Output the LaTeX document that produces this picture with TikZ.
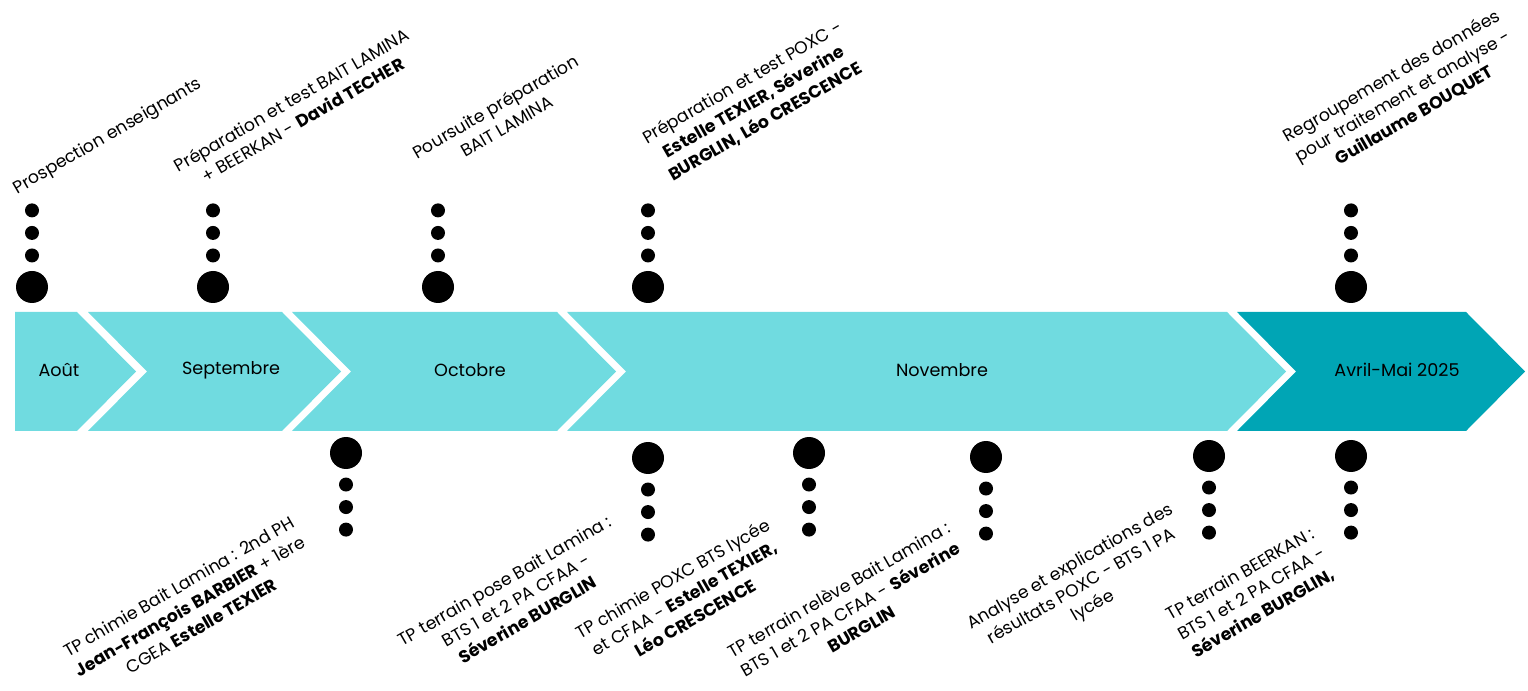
\documentclass[tikz,border=0pt]{standalone}
\usepackage{fontspec}
\setmainfont{Poppins}
\usetikzlibrary{positioning}
\definecolor{bandlight}{HTML}{70DBE0}
\definecolor{banddark}{HTML}{00A5B5}
\tikzset{
  monthband/.style={fill=bandlight},
  monthbandlast/.style={fill=banddark},
  monthlabel/.style={font=\fontsize{13.2}{16}\selectfont, inner sep=0pt},
  eventlabel/.style={
    font=\fontsize{13}{17}\selectfont, align=center,
    rotate=30, inner sep=0pt
  },
  bigdot/.style={circle, fill=black, minimum size=24pt, inner sep=0pt},
  smalldot/.style={circle, fill=black, minimum size=10.5pt, inner sep=0pt},
}

\begin{document}
\begin{tikzpicture}[x=0.75pt, y=-0.75pt]
  \useasboundingbox (0,0) rectangle (1528,691);

  % timeline band
  \fill[monthband] (15,312) -- (77,312) -- (136,371.5) -- (77,431) -- (15,431) -- cycle;
  \fill[monthband] (88,312) -- (282,312) -- (341,371.5) -- (282,431) -- (88,431) -- (147,371.5) -- cycle;
  \fill[monthband] (292,312) -- (557,312) -- (616,371.5) -- (557,431) -- (292,431) -- (351,371.5) -- cycle;
  \fill[monthband] (567,312) -- (1227,312) -- (1286,371.5) -- (1227,431) -- (567,431) -- (626,371.5) -- cycle;
  \fill[monthbandlast] (1237,312) -- (1466,312) -- (1525,371.5) -- (1466,431) -- (1237,431) -- (1296,371.5) -- cycle;

  \node[monthlabel] (aout) at (59,370) {Août};
  \node[monthlabel] (septembre) at (231,370) {Septembre};
  \node[monthlabel] (octobre) at (470,370) {Octobre};
  \node[monthlabel] (novembre) at (942,370) {Novembre};
  \node[monthlabel] (avrilmai) at (1397,370) {Avril-Mai 2025};

  % markers above the band
  \foreach \name/\x in {t1/32, t2/213, t3/438, t4/648, t5/1351} {
    \node[bigdot] (\name) at (\x,287) {};
    \node[smalldot, above=6pt of \name] (\name-a) {};
    \node[smalldot, above=6pt of \name-a] (\name-b) {};
    \node[smalldot, above=6pt of \name-b] (\name-c) {};
  }
  % markers below the band
  \foreach \name/\x/\y in {b1/346/453, b2/648/458, b3/809/453, b4/986/457, b5/1209/456, b6/1351/456} {
    \node[bigdot] (\name) at (\x,\y) {};
    \node[smalldot, below=6pt of \name] (\name-a) {};
    \node[smalldot, below=6pt of \name-a] (\name-b) {};
    \node[smalldot, below=6pt of \name-b] (\name-c) {};
  }

  % events
  \node[eventlabel] (prospection) at (108,137) {Prospection enseignants};
  \node[eventlabel] (prepbait) at (297,110) {Préparation et test BAIT LAMINA\\+ BEERKAN - \textbf{David TECHER}};
  \node[eventlabel] (poursuite) at (501,116) {Poursuite préparation\\BAIT LAMINA};
  \node[eventlabel] (preppoxc) at (754,102) {Préparation et test POXC -\\\textbf{Estelle TEXIER, Séverine}\\\textbf{BURGLIN, Léo CRESCENCE}};
  \node[eventlabel] (regroupement) at (1403,96) {Regroupement des données\\pour traitement et analyse -\\\textbf{Guillaume BOUQUET}};

  \node[eventlabel] (tpchimiebait) at (190,606) {TP chimie Bait Lamina : 2nd PH\\\textbf{Jean-François BARBIER} + 1ère\\CGEA \textbf{Estelle TEXIER}};
  \node[eventlabel] (tppose) at (516,600) {TP terrain pose Bait Lamina :\\BTS 1 et 2 PA CFAA -\\\textbf{Séverine BURGLIN}};
  \node[eventlabel] (tpchimiepoxc) at (684,598) {TP chimie POXC BTS lycée\\et CFAA - \textbf{Estelle TEXIER,}\\\textbf{Léo CRESCENCE}};
  \node[eventlabel] (tpreleve) at (850,609) {TP terrain relève Bait Lamina :\\BTS 1 et 2 PA CFAA - \textbf{Séverine}\\\textbf{BURGLIN}};
  \node[eventlabel] (analyse) at (1082,587) {Analyse et explications des\\résultats POXC - BTS 1 PA\\lycée};
  \node[eventlabel] (tpbeerkan) at (1252,594) {TP terrain BEERKAN :\\BTS 1 et 2 PA CFAA -\\\textbf{Séverine BURGLIN,}};
\end{tikzpicture}
\end{document}
